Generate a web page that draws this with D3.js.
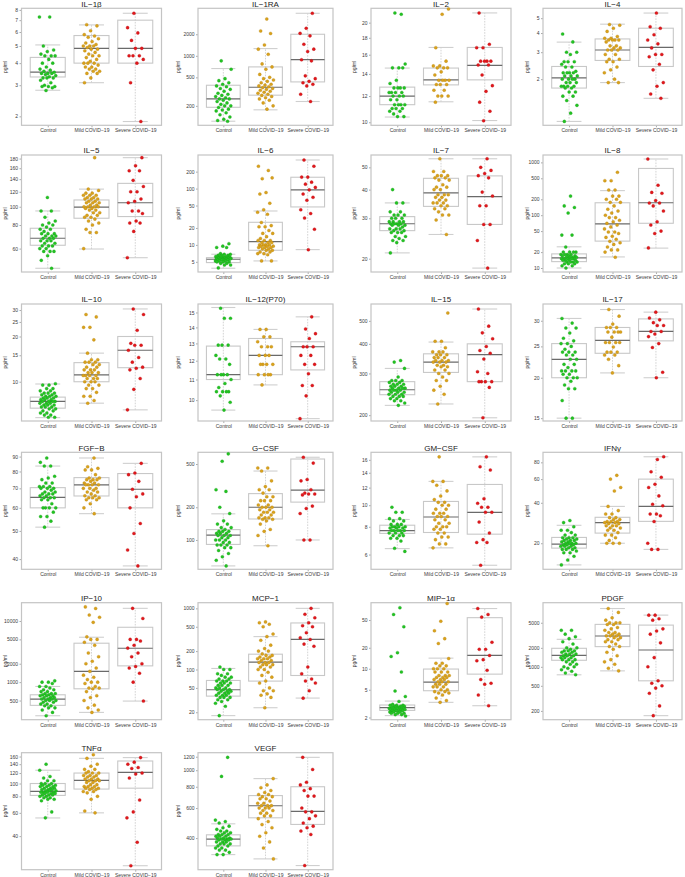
<!DOCTYPE html>
<html><head><meta charset="utf-8">
<script src="https://cdn.jsdelivr.net/npm/d3@7"></script>
<style>body{margin:0;background:#fff}svg{display:block;font-family:"Liberation Sans",Arial,sans-serif}</style>
</head><body><svg id="c" width="685" height="877"></svg>
<script>
const categories = ["Control", "Mild COVID−19", "Severe COVID−19"];
const panelNames = ["IL-1β","IL-1RA","IL-2","IL-4","IL-5","IL-6","IL-7","IL-8","IL-10","IL-12(P70)","IL-15","IL-17","FGF-B","G-CSF","GM-CSF","IFNγ","IP-10","MCP-1","MIP-1α","PDGF","TNFα","VEGF"];
const yTicks = [
 [2,3,4,5,6,7,8],[200,500,1000,2000],[10,12,14,16,18,20],[2,3,4,5],
 [60,80,100,120,140,160,180],[5,10,20,50,100,200],[20,30,40,50],[10,20,50,100,200,500,1000],
 [10,15,20,25,30],[10,11,12,13,14,15],[200,300,400,500],[15,20,25,30],
 [40,50,60,70,80,90],[100,200,500],[6,8,10,12,14,16],[20,40,60,80],
 [500,1000,2000,5000,10000],[20,50,100,200,500,1000],[2,5,10,20,50],[200,500,1000,2000,5000],
 [40,60,80,100,120,140,160],[400,600,800,1000,1200]
];
const yDomains = [
 [1.78,8.17],[107,4610],[9.79,22.1],[1.0,5.8],
 [45.1,188],[3.3,395],[17.5,56.6],[8.4,1380],
 [5.48,32.9],[9.08,15.6],[189,589],[14.7,33.8],
 [36.9,93.1],[53.7,641],[5.15,17.3],[12.8,95],
 [243,19900],[15.1,1237],[1.86,88.5],[145,10400],
 [22.3,171],[261,1267]
];
// box stats: [lower whisker, q1, median, q3, upper whisker]
const boxControl = [
 [2.81,3.34,3.56,4.31,5.07],[122,191,250,388,664],[10.37,11.3,12.0,12.77,14.58],[1.06,1.75,2.04,2.42,3.49],
 [47.2,62.5,68.1,76.9,95],[3.85,4.85,5.56,5.94,6.82],[21.2,26.5,28.4,30.5,35],[10,13.2,15.5,18.5,25.2],
 [5.77,6.67,7.4,7.9,9.66],[9.55,11.0,11.25,12.84,15.35],[220,244,256,277,315],[15,20,22.8,25.5,30.5],
 [51.5,60,65.2,70.4,83.5],[57.7,91,111,124.5,174],[6.38,7.47,7.69,8.13,8.63],[13.8,18.4,19.7,22.1,27.2],
 [282,417,528,621,849],[17.6,36.7,46.6,66.2,104],[2.13,2.53,2.77,3.02,3.44],[747,1270,1524,1967,2730],
 [54.9,81.3,87.1,100,126],[320,360,394,418,485]
];
const boxMild = [
 [3.1,4.0,4.85,5.73,6.58],[176,282,364,700,1262],[11.53,12.97,13.43,14.58,16.83],[1.9,2.65,3.1,3.66,4.57],
 [59.7,86.9,99.5,108.6,124],[5.19,8.03,11.4,25.2,40],[25.5,33.8,38.7,44.8,54.5],[16.2,32.3,68.3,172,292],
 [7.2,10,11.1,13.4,15.5],[10.73,11.25,12.3,13.3,13.87],[223,303,335,363,407],[20.7,23.8,26.1,28.6,32.5],
 [57.3,65.9,72,76.2,89],[88.5,156,200,267,431],[6.43,7.54,8.85,10.4,12.8],[20,23.8,28.5,31.2,37.6],
 [320,778,1494,4330,5420],[23.7,64.6,132,178,345],[3.3,4.84,6.44,9.9,14.2],[863,2090,3080,4710,8410],
 [60,90.8,105.7,120,155],[302,526,619,710,893]
];
const boxSevere = [
 [1.87,4.0,4.85,7.0,7.66],[230,432,887,2000,3927],[10.12,13.43,14.86,16.83,21.4],[1.5,2.42,3.22,4.3,5.4],
 [53.7,88.7,105,133,182],[8.24,47.2,94.6,159,322],[18.2,28.2,37.3,45.9,54.5],[23.8,70.3,172,768,1160],
 [6.5,12.4,16.2,20,30.5],[9.18,11.5,12.8,13.1,14.7],[195,277,360,400,561],[20,26,27.8,30.4,31.9],
 [37.9,60,69.5,78.7,85.3],[100,223,287,556,577],[5.37,7.41,9.29,12.4,16.5],[18,29.1,37.6,60,88],
 [490,1845,3580,7890,16100],[34.1,79.8,312,577,1000],[2.95,8.37,15.5,54,73],[168,600,1850,4590,6610],
 [23.9,92.2,121.6,148,157],[276,481,574,800,1190]
];
const ptsControl = [
 [7.3,7.3,5.0,4.75,4.65,4.5,4.4,4.4,4.4,4.2,4.0,4.0,3.8,3.7,3.65,3.6,3.55,3.5,3.5,3.5,3.45,3.4,3.35,3.3,3.3,3.3,3.2,3.1,3.0,2.95,2.95,2.95,2.9,2.8],
 [850,650,480,450,420,400,380,370,350,340,320,300,290,280,270,260,250,250,240,230,220,210,200,200,190,180,175,170,160,150,140,130,125,122],
 [21.2,21.4,15.0,14.6,14.6,14.6,13.4,13.1,12.7,12.7,12.7,12.7,12.3,12.3,12.3,12.3,12.0,12.0,12.0,11.7,11.7,11.3,11.3,11.3,11.3,11.0,11.0,11.0,10.8,10.8,10.6,10.4,10.4],
 [3.94,3.5,3.0,3.0,2.9,2.6,2.6,2.6,2.5,2.4,2.4,2.25,2.2,2.2,2.2,2.2,2.1,2.1,2.1,2.0,2.0,2.0,2.0,1.9,1.9,1.9,1.8,1.8,1.8,1.8,1.75,1.75,1.65,1.65,1.55,1.55,1.45,1.35,1.2,1.06],
 [112,95,95,88,84,82,80,80,78,76,76,74,72,72,72,70,70,70,68,68,68,66,66,66,64,64,62,62,62,60,60,58,58,58,55,52,47.2],
 [10.5,9.5,9,9,7,6.8,6.8,6.5,6.5,6.5,6.2,6.2,6.2,6.2,6,6,6,6,5.8,5.8,5.8,5.8,5.6,5.6,5.6,5.6,5.6,5.4,5.4,5.4,5.4,5.2,5.2,5.2,5,5,5,4.7,4.7,4.4,4.4,3.9],
 [40,35,35,32,32,31,31,31,30,30,30,29,29,29,29,28.4,28.4,28.4,28.4,28,28,28,27.5,27,27,27,26.5,26.5,26,26,26,25,25,24.5,24,24,23.5,21.2],
 [230,150,140,110,42,42,25,20,20,20,20,18,18,18,18,17,17,17,16,16,16,16,15,15,15,15,15,14,14,14,14,13,13,13,13,12,12,12,11,11,10],
 [9.7,9.5,9.5,9,9,8.7,8.7,8.4,8.4,8.4,8.2,8.2,8,8,8,7.8,7.8,7.8,7.6,7.6,7.6,7.4,7.4,7.4,7.4,7.2,7.2,7.2,7,7,7,6.8,6.8,6.8,6.6,6.6,6.4,6.4,6.2,6.2,6,6,5.8,5.8],
 [15.3,14.6,14.6,12.9,12.9,12.9,12.3,12.1,12.1,11.8,11.25,11.25,11.25,11.25,11.0,10.8,10.6,10.4,10.4,10.4,10.4,10.2,9.9,9.55],
 [340,335,315,290,280,280,280,275,275,270,270,270,265,265,265,260,260,260,260,255,255,255,255,250,250,250,245,245,245,240,240,240,235,235,230,230,225,220],
 [30.5,29.5,28.5,28.5,27.5,26.5,26,25.5,25.5,25,24.5,24,24,24,23.5,23.5,22.8,22.8,22,22,21.5,21,21,21,21,20.5,20.5,20,20,20,19.5,19,18.5,18.5,17,15,15],
 [89,86,83.5,83.5,77,76,75,73,73,71,71,71,70,70,70,69,68,68,67,67,67,66,66,65,65,65,64,64,62,60,60,60,60,58,56,56,54,51.5],
 [620,530,290,280,200,175,150,140,140,130,130,125,120,120,120,115,115,115,110,110,110,105,105,100,100,100,95,95,90,90,90,85,85,80,75,70,65,57.7],
 [9.8,9.3,9.3,8.7,8.7,8.5,8.5,8.2,8.2,8.2,8.0,8.0,8.0,8.0,7.9,7.9,7.9,7.7,7.7,7.7,7.7,7.7,7.5,7.5,7.5,7.3,7.3,7.3,7.1,7.1,6.9,6.4,6.2],
 [29.5,28.5,26.5,25,25,24,23,23,22,22,22,21.5,21.5,21,21,21,20.5,20.5,20,20,20,20,19.5,19.5,19.5,19,19,19,18.5,18.5,18,18,18,17.5,17,17,16,15,13.8],
 [1050,1000,1000,950,850,850,800,750,750,700,700,650,650,650,620,620,600,600,600,560,560,560,530,530,530,500,500,500,470,470,440,440,410,410,380,380,350,320,282],
 [110,100,100,85,85,80,75,75,70,70,65,65,65,60,60,60,55,55,55,50,50,50,47,47,47,44,44,44,41,41,41,38,38,38,35,35,35,32,32,30,28,25,17.6],
 [75,60,40,17,15,9,4.8,4,3.4,3.1,3,3,3,2.9,2.9,2.9,2.8,2.8,2.8,2.8,2.7,2.7,2.7,2.7,2.7,2.6,2.6,2.6,2.6,2.5,2.5,2.5,2.5,2.4,2.4,2.4,2.3,2.3,2.3,2.2,2.2,2.1],
 [3800,3800,3300,3000,2800,2500,2300,2000,2000,1900,1800,1800,1800,1700,1700,1600,1600,1600,1500,1500,1500,1400,1400,1400,1300,1300,1300,1200,1200,1100,1100,1000,1000,950,900,850,800,750],
 [140,126,113,110,105,105,100,100,100,97,97,97,95,95,95,92,92,92,90,90,90,88,88,88,86,86,86,86,84,84,84,82,82,82,80,80,78,78,76,76,74,61,55],
 [1190,920,510,500,490,470,460,450,440,440,430,430,420,420,420,410,410,410,400,400,400,395,395,395,390,390,390,380,380,380,370,370,370,360,360,350,350,340,340,330,320,320]
];
const ptsMild = [
 [6.6,6.5,6.1,5.8,5.7,5.6,5.5,5.3,5.2,5.1,5.0,5.0,5.0,4.9,4.8,4.8,4.7,4.6,4.5,4.4,4.4,4.3,4.2,4.1,4.0,4.0,4.0,3.9,3.8,3.8,3.7,3.7,3.6,3.6,3.5,3.5,3.3,3.1],
 [3270,2224,2050,1419,1240,1050,771,700,650,550,500,480,460,440,420,400,390,380,370,360,350,340,330,320,310,300,290,280,270,260,250,240,220,200,180],
 [22.0,21.2,16.8,15.3,14.8,14.8,14.6,14.6,14.6,14.2,13.9,13.4,13.4,13.4,13.4,13.0,13.0,13.0,12.5,12.5,12.0,12.0,12.0,11.5],
 [4.55,4.5,4.3,4.1,3.8,3.7,3.7,3.6,3.6,3.6,3.6,3.5,3.3,3.3,3.2,3.2,3.1,3.1,3.1,2.9,2.9,2.7,2.7,2.6,2.6,2.4,2.3,2.2,2.0,1.9,1.9],
 [182,124,122,118,118,115,115,115,112,112,110,110,110,107,107,105,105,105,102,102,100,100,100,100,98,98,96,96,93,93,90,90,88,88,86,84,82,80,76,73,73,60],
 [250,210,150,155,85,80,55,42,38,35,25,22,21,21,18,16,16,14,13,12,12,12,11,11,11,10,10,10,10,9.5,9.5,9.5,9,9,9,8.5,8.5,8,8,7.5,7.5,7,7,6.7,5.2,5.2],
 [54.5,48,48,46,46,46,45,45,44,44,42,41,41,40,40,38,38,38,37,37,36,36,35,35,35,34,34,33,33,32,31,31,29.5,25.5],
 [650,450,450,300,300,230,230,200,200,175,175,150,130,120,110,100,90,90,80,75,70,65,60,55,48,48,45,40,38,35,32,30,28,25,22,22,20,16],
 [28,27,23,23,19,15.5,14,14,13.5,13.5,13.5,13,13,12.5,12.5,12,12,12,11.5,11.5,11.5,11,11,11,11,10.5,10.5,10.5,10,10,10,9.5,9.5,9,9,8.5,8,8,7.5,7.2],
 [13.87,13.87,13.4,13.4,13.1,12.8,12.8,12.8,12.3,12.3,12.3,11.8,11.8,11.8,11.8,11.25,11.25,11.25,11.25,10.73],
 [540,410,410,385,370,370,370,360,360,360,350,350,350,340,340,340,335,335,335,325,325,320,320,310,310,300,300,290,280,280,265,255,245,223],
 [32.5,31,29.3,28.6,28.6,28.6,27.7,27.7,27.7,27.7,26.7,25.7,25.7,25.7,25.7,24.9,24,24,24,23.5,23.5,22.8,21.8,20.7],
 [89,83,82,81,81,78,76,76,75,75,75,74,73,73,72,72,72,72,70,70,70,69,68,68,67,66,66,65,65,65,64,64,62,60,57.3],
 [460,460,431,350,310,290,290,270,250,250,230,230,230,210,210,200,200,200,190,190,180,180,180,170,170,160,160,160,155,155,150,140,125,120,110,88.5],
 [16.5,12.8,12.8,12.3,11.6,11,10.6,10.3,10.3,10,10,9.6,9.6,9.2,9.2,9.2,8.9,8.9,8.9,8.6,8.6,8.3,8.3,8,8,8,7.8,7.8,7.5,7.5,7.2,7.2,7,6.7,6.7,6.43],
 [64,60,52,49,37.6,35,33,33,31,31,30,30,29,29,29,28.5,28.5,28,28,27,27,27,26,26,25,25,24,23,23,22,21,20,20,20],
 [17000,16000,12500,11500,9500,5500,5000,5000,4500,4000,3000,2600,2200,2000,1700,1500,1300,1200,1100,1000,1000,950,850,800,800,780,700,600,560,500,420,380,350,320],
 [600,580,550,500,380,345,300,250,220,200,200,180,170,170,160,160,150,150,150,140,140,130,130,130,120,120,120,110,110,100,100,90,80,75,65,60,50,45,45,40,38,35,23.7],
 [86,48,35,27,23,14,12,12,11,11,10,10,10,9,9,9,8,8,8,7.5,7.5,7.5,7,7,7,6.5,6.5,6.5,6,6,6,5.5,5.5,5.5,5,5,4.7,4.7,4.5,4.5,4.2,3.8,3.5,3.3],
 [8400,7300,6000,5500,5000,5000,5000,4700,4700,4200,4000,3800,3500,3500,3300,3300,3100,3100,3100,2900,2900,2700,2700,2500,2500,2300,2100,2100,1900,1700,1500,1300,1200,1100,950,863],
 [165,155,140,135,128,128,123,120,120,120,115,115,115,112,112,108,108,108,105,105,105,102,102,98,98,95,95,95,92,92,92,90,90,87,87,85,80,76,62,60],
 [893,820,790,760,740,720,720,700,700,680,680,660,640,640,620,620,620,600,600,600,580,580,560,560,540,540,520,500,480,460,430,410,380,350,302]
];
const ptsSevere = [
 [7.66,6.35,5.93,5.38,4.85,4.85,4.4,4.4,4.4,4.2,4.0,3.1,1.87],
 [3927,2427,2060,1900,1450,1240,1150,880,850,525,480,440,420,400,380,291,230],
 [21.4,17.2,16.8,16.8,15.3,15.3,15.3,15.3,14.9,14.9,13.9,12.9,12.4,11.5,10.8,10.1],
 [5.4,4.4,4.3,3.9,3.6,3.4,3.2,2.9,2.9,2.8,2.5,2.3,1.9,1.8,1.6,1.5],
 [182,165,155,155,138,128,120,120,110,107,105,95,95,92,84,82,82,74,53.7],
 [322,250,160,160,130,120,105,95,80,70,62,42,36,30,19,8.2],
 [54.5,50,48.5,47,46,45,39,37.5,34,34,28.2,28.2,24,18.2],
 [1160,370,270,260,190,170,170,150,120,75,65,50,45,24],
 [30.5,28,22,18,17.5,17.5,16.2,14.5,13.5,12.5,12.3,12,10.5,8.9,6.5],
 [14.7,13.9,13.6,13.3,12.8,12.8,12.8,12.3,12.3,11.8,11.8,11.3,10.7,10.7,10.2,9.18],
 [561,475,445,420,390,375,365,345,305,300,277,277,277,277,262,195],
 [31.9,30.6,30.2,29.6,29,29,27.8,27.8,27.3,26.8,25.5,24.8,20.8,20],
 [85.3,79,78,74,69.5,67,65.5,60,53,49,43,37.9],
 [577,510,360,350,290,270,265,265,260,205,195,175,100,100],
 [16.5,14.9,14.4,10.7,10.2,9.8,9.8,9.3,9.3,8.4,7.5,7.0,6.8,6.8,5.37],
 [88,84,68,62,55,52,45,39,38,33,33,32,29,20,18,18],
 [16100,11000,5000,5000,4700,4000,3600,3000,2600,2000,1800,1700,1400,1000,490],
 [1000,800,700,580,520,500,400,330,310,260,240,110,85,70,65,60,45,34],
 [73,60,55,24,19,19,15.5,13.5,13,9.5,7,6.2,6,4.2,2.95],
 [6600,6600,5800,5500,4000,3700,3300,2400,1400,1000,600,550,500,460,380,240,168],
 [157,145,140,132,130,120,118,110,75,61,55,36,23.9],
 [1190,1010,850,820,780,760,705,705,600,570,570,540,520,490,470,460,440,420,276]
];

const groupColors = ["#22c322", "#daa21c", "#e2171b"];
const groupStroke = ["#1a9e1a", "#b08012", "#b01013"];

const svg = d3.select("#c");
const colLeft = [21.5, 198, 371, 543];
const colRight = [161.5, 333, 511, 682];
const ylabX = [5, 178, 354, 527];
const rowTop = [8.3, 155, 304, 452.3, 602.7, 752.7];
const frameH = 117;
const boxSets = [boxControl, boxMild, boxSevere];
const ptSets = [ptsControl, ptsMild, ptsSevere];
const disp = s => s.replace(/-/g, "−");

panelNames.forEach((name, k) => {
  const r = Math.floor(k / 4), c = k % 4;
  const x0 = colLeft[c], x1 = colRight[c], y0 = rowTop[r], y1 = y0 + frameH;
  const x = d3.scalePoint().domain(categories).range([x0, x1]).padding(0.6);
  const y = d3.scaleLog().domain(yDomains[k]).range([y1, y0]);
  const step = x.step(), bw = step * 0.8, cw = step * 0.57;
  const g = svg.append("g");

  const ya = g.append("g").attr("transform", `translate(${x0},0)`)
    .call(d3.axisLeft(y).tickValues(yTicks[k]).tickFormat(d => String(d)).tickSize(2).tickPadding(1.5));
  const xa = g.append("g").attr("transform", `translate(0,${y1})`)
    .call(d3.axisBottom(x).tickSize(2).tickPadding(1.5));
  [ya, xa].forEach(a => {
    a.select(".domain").remove();
    a.selectAll(".tick line").attr("stroke", "#555").attr("stroke-width", 0.5);
    a.selectAll(".tick text").attr("fill", "#3a3a3a").style("font-size", "5px").style("font-family", "Liberation Sans, Arial, sans-serif");
  });

  g.append("text").attr("x", (x0 + x1) / 2).attr("y", y0 - 1.6).attr("text-anchor", "middle")
    .style("font-size", "8px").attr("fill", "#222").text(disp(name));
  g.append("text").attr("transform", `translate(${ylabX[c]},${(y0 + y1) / 2}) rotate(-90)`)
    .attr("text-anchor", "middle").attr("dy", "0.35em").style("font-size", "5px").attr("fill", "#333").text("pg/ml");

  categories.forEach((cat, gi) => {
    const b = boxSets[gi][k];
    const cx = x(cat);
    g.append("line").attr("x1", cx).attr("x2", cx).attr("y1", y(b[0])).attr("y2", y(b[4]))
      .attr("stroke", "#c8c8c8").attr("stroke-width", 0.8).attr("stroke-dasharray", "1.6,1.2");
    [b[0], b[4]].forEach(v => g.append("line").attr("x1", cx - cw / 2).attr("x2", cx + cw / 2)
      .attr("y1", y(v)).attr("y2", y(v)).attr("stroke", "#cfcfcf").attr("stroke-width", 1.1));
    g.append("rect").attr("x", cx - bw / 2).attr("y", y(b[3])).attr("width", bw).attr("height", y(b[1]) - y(b[3]))
      .attr("fill", "none").attr("stroke", "#c8c8c8").attr("stroke-width", 1.1);
    g.append("line").attr("x1", cx - bw / 2).attr("x2", cx + bw / 2).attr("y1", y(b[2])).attr("y2", y(b[2]))
      .attr("stroke", "#6a6a6a").attr("stroke-width", 1.2);
  });

  g.append("rect").attr("x", x0).attr("y", y0).attr("width", x1 - x0).attr("height", y1 - y0)
    .attr("fill", "none").attr("stroke", "#c4c4c4").attr("stroke-width", 1.2);

  categories.forEach((cat, gi) => {
    const cx = x(cat);
    const pts = ptSets[gi][k];
    g.selectAll(null).data(pts).join("circle")
      .attr("cx", (d, i) => cx + (((i * 0.6180339 + k * 0.37 + gi * 0.21) % 1) * 2 - 1) * step * 0.19)
      .attr("cy", d => y(d)).attr("r", 1.55)
      .attr("fill", groupColors[gi]).attr("stroke", groupStroke[gi]).attr("stroke-width", 0.3);
  });
});
</script></body></html>
